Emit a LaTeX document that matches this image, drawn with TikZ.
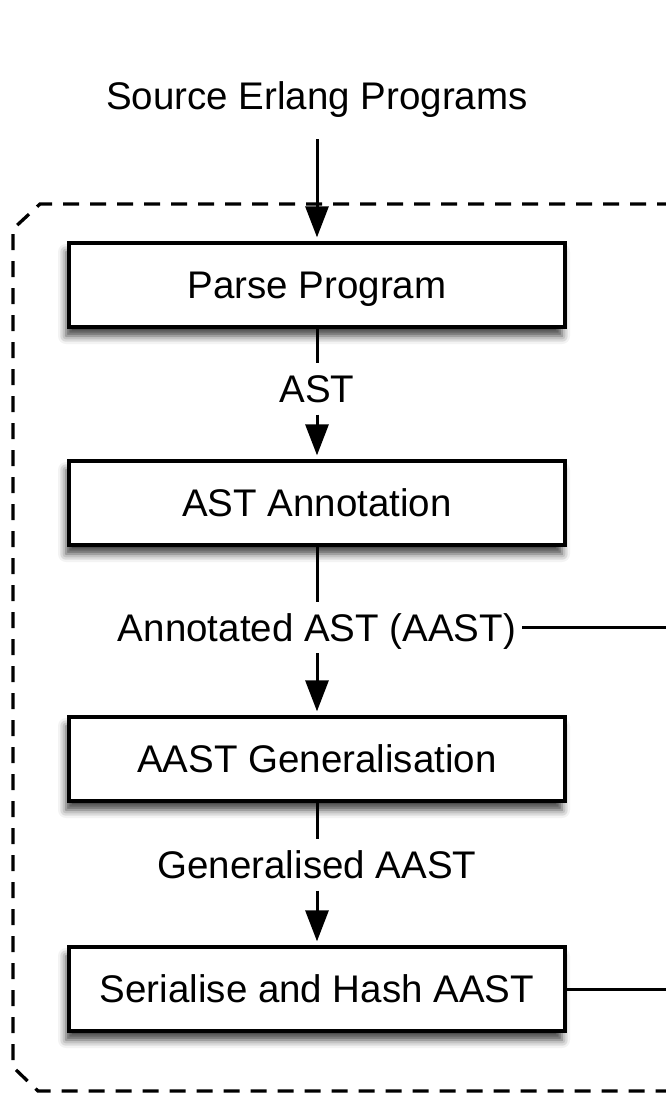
\documentclass[tikz,border=0pt]{standalone}
\usepackage{fontspec}
\setmainfont{Liberation Sans}
\usetikzlibrary{arrows.meta,shadows.blur}
\begin{document}
\begin{tikzpicture}[x=1pt,y=-1pt,
  txt/.style={font=\fontsize{38.5}{46}\selectfont, text height=27pt, text depth=0pt},
  stepbox/.style={txt, draw, line width=3.3pt, fill=white, minimum width=496pt, minimum height=84pt, inner sep=0pt,
    blur shadow={shadow xshift=-3pt, shadow yshift=-9pt, shadow blur radius=8pt, shadow opacity=75}},
  lbl/.style={txt, inner xsep=6pt, inner ysep=12pt},
  conn/.style={line width=3pt},
  flow/.style={conn, -{Triangle[length=31pt,width=23pt]}, shorten >=4pt},
  grp/.style={line width=3.3pt, dash pattern=on 16pt off 11pt}]
\useasboundingbox (0,0) rectangle (666,1095);
% group boundary
\draw[grp] (700,204) -- (40,204) -- (13,229) -- (13,1067) -- (38,1091) -- (700,1091);
% nodes
\node[txt, inner sep=0pt] (src) at (317,95.5) {Source Erlang Programs};
\node[stepbox] (p1) at (317,285) {Parse Program};
\node[lbl] (l1) at (317,389) {AST};
\node[stepbox] (p2) at (317,503) {AST Annotation};
\node[lbl] (l2) at (317,627.5) {Annotated AST (AAST)};
\node[stepbox] (p3) at (317,759) {AAST Generalisation};
\node[lbl] (l3) at (317,865) {Generalised AAST};
\node[stepbox] (p4) at (317,989) {Serialise and Hash AAST};
\coordinate (e1) at (680,627.5);
\coordinate (e2) at (680,989);
% connectors
\draw[flow, shorten <=30pt] (src.south) -- (p1.north);
\draw[conn] (p1.south) -- (l1.north);
\draw[flow] (l1.south) -- (p2.north);
\draw[conn] (p2.south) -- (l2.north);
\draw[flow] (l2.south) -- (p3.north);
\draw[conn] (p3.south) -- (l3.north);
\draw[flow] (l3.south) -- (p4.north);
\draw[conn] (l2.east) -- (e1);
\draw[conn] (p4.east) -- (e2);
\end{tikzpicture}
\end{document}
